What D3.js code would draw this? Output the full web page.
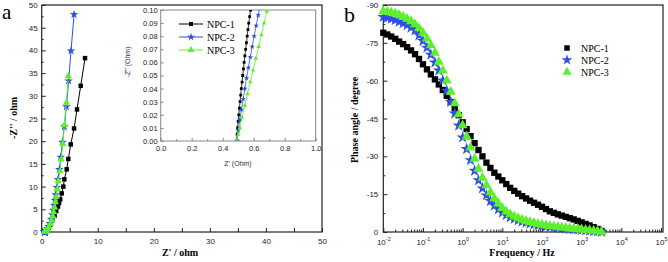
<!DOCTYPE html>
<html>
<head>
<meta charset="utf-8">
<script src="https://cdn.jsdelivr.net/npm/d3@7"></script>
<style>
body { margin: 0; background: #fff; }
svg { display: block; }
</style>
</head>
<body>
<div class="chart"></div>
<script>
const seriesNames = ['NPC-1', 'NPC-2', 'NPC-3'];
const seriesColors = ['#000000', '#2f4fe4', '#5cf02a'];

// Nyquist: Z' (ohm) and -Z'' (ohm)
const npc1Re = [0.490, 0.493, 0.496, 0.500, 0.504, 0.508, 0.512, 0.516, 0.520, 0.525, 0.529, 0.534, 0.538, 0.543, 0.548, 0.553, 0.558, 0.563, 0.568, 0.574, 0.580,
  0.75, 0.95, 1.2, 1.5, 1.9, 2.3, 2.6, 2.9, 3.1, 3.3, 3.57, 3.86, 4.04, 4.46, 4.75, 5.18, 5.77, 6.3, 6.96, 7.73];
const npc1Im = [0.000, 0.005, 0.010, 0.015, 0.020, 0.025, 0.030, 0.035, 0.040, 0.045, 0.050, 0.055, 0.060, 0.065, 0.070, 0.075, 0.080, 0.085, 0.090, 0.095, 0.100,
  0.25, 0.5, 0.9, 1.6, 2.6, 3.6, 4.6, 5.6, 6.4, 7.2, 8.5, 10.0, 11.6, 13.8, 16.1, 19.3, 22.8, 27.0, 32.2, 38.3];
const npc2Re = [0.490, 0.500, 0.510, 0.521, 0.532, 0.543, 0.554, 0.566, 0.578, 0.590, 0.603, 0.616, 0.629, 0.643,
  0.8, 1.0, 1.2, 1.45, 1.7, 1.9, 2.05, 2.2, 2.35, 2.5, 2.7, 2.9, 3.15, 3.4, 3.7, 4.04, 4.4, 4.8, 5.23, 5.77];
const npc2Im = [0.000, 0.008, 0.016, 0.024, 0.032, 0.040, 0.048, 0.056, 0.064, 0.072, 0.080, 0.088, 0.096, 0.104,
  0.3, 0.65, 1.2, 1.9, 2.8, 3.8, 4.8, 5.9, 7.0, 8.2, 9.8, 11.6, 13.8, 16.5, 19.8, 23.2, 27.6, 33.3, 39.9, 47.9];
const npc3Re = [0.490, 0.500, 0.510, 0.525, 0.542, 0.560, 0.578, 0.596, 0.614, 0.632, 0.650, 0.667, 0.684, 0.702,
  0.85, 1.05, 1.3, 1.55, 1.8, 2.0, 2.15, 2.3, 2.45, 2.6, 2.79, 2.96, 3.27, 3.5, 3.75, 4.04, 4.4, 4.75];
const npc3Im = [0.000, 0.005, 0.010, 0.018, 0.027, 0.036, 0.045, 0.054, 0.063, 0.072, 0.081, 0.090, 0.099, 0.108,
  0.3, 0.6, 1.1, 1.8, 2.6, 3.5, 4.4, 5.4, 6.6, 7.8, 9.5, 11.2, 13.4, 16.0, 19.4, 23.6, 28.5, 34.4];

// Bode phase: frequency (Hz) and phase angle (degree)
const frequency = [0.01, 0.0126, 0.0158, 0.02, 0.0251, 0.0316, 0.0398, 0.0501, 0.0631, 0.0794,
  0.1, 0.126, 0.158, 0.2, 0.251, 0.316, 0.398, 0.501, 0.631, 0.794,
  1, 1.26, 1.58, 2, 2.51, 3.16, 3.98, 5.01, 6.31, 7.94,
  10, 12.6, 15.8, 20, 25.1, 31.6, 39.8, 50.1, 63.1, 79.4,
  100, 126, 158, 200, 251, 316, 398, 501, 631, 794,
  1000, 1260, 1580, 2000, 2510, 3160];
const npc1Phase = [-79.0, -78.3, -77.5, -76.6, -75.5, -74.5, -73.3, -72.0, -70.5, -68.6,
  -66.5, -64.5, -62.5, -60.5, -58.5, -56.3, -54.0, -51.5, -49.0, -46.3,
  -43.5, -40.8, -38.0, -35.2, -32.5, -30.0, -27.5, -25.4, -23.5, -22.0,
  -20.5, -19.0, -17.5, -16.3, -15.2, -14.2, -13.3, -12.4, -11.6, -10.8,
  -10.0, -9.1, -8.2, -7.6, -7.0, -6.5, -6.0, -5.5, -5.0, -4.4,
  -3.8, -3.2, -2.6, -1.9, -1.2, -0.4];
const npc2Phase = [-85.3, -84.9, -84.5, -84.0, -83.3, -82.7, -82.0, -81.1, -80.0, -78.0,
  -75.7, -73.1, -70.3, -67.2, -64.0, -60.1, -56.0, -51.6, -47.0, -42.2,
  -37.5, -32.9, -28.5, -24.3, -20.5, -17.3, -14.5, -12.3, -10.5, -9.0,
  -7.7, -6.7, -5.8, -5.2, -4.6, -4.1, -3.7, -3.3, -3.0, -2.7,
  -2.5, -2.2, -2.0, -1.8, -1.7, -1.5, -1.4, -1.2, -1.1, -1.0,
  -0.9, -0.7, -0.6, -0.4, -0.3, -0.1];
const npc3Phase = [-87.5, -87.3, -87.0, -86.6, -86.0, -85.3, -84.5, -83.5, -82.3, -80.8,
  -79.0, -76.7, -74.0, -71.0, -67.5, -64.0, -60.0, -55.6, -51.0, -46.6,
  -42.3, -37.8, -33.5, -29.0, -25.0, -21.5, -18.5, -15.7, -13.3, -11.3,
  -9.5, -8.1, -7.0, -6.1, -5.4, -4.8, -4.3, -3.9, -3.5, -3.1,
  -2.8, -2.5, -2.3, -2.1, -1.9, -1.7, -1.6, -1.4, -1.3, -1.1,
  -1.0, -0.8, -0.7, -0.5, -0.3, -0.1];

// tick labels
const nyqTicks = [0, 10, 20, 30, 40, 50];
const nyqYTicks = [0, 5, 10, 15, 20, 25, 30, 35, 40, 45, 50];
const insetXTicks = [0, 0.2, 0.4, 0.6, 0.8, 1.0];
const insetYTicks = [0, 0.01, 0.02, 0.03, 0.04, 0.05, 0.06, 0.07, 0.08, 0.09, 0.10];
const phaseTicks = [0, -15, -30, -45, -60, -75, -90];
const freqExponents = [-2, -1, 0, 1, 2, 3, 4, 5];

const width = 668, height = 262;
const sansFont = '"Liberation Sans", Arial, sans-serif';
const serifFont = '"Liberation Serif", "Times New Roman", serif';

const svg = d3.select('.chart')
  .append('svg')
  .attr('width', width)
  .attr('height', height);

const symbolTypes = [d3.symbolSquare, d3.symbolStar, d3.symbolTriangle];

function styleAxis(g, color, fontSize) {
  g.select('.domain').remove();
  g.selectAll('line').attr('stroke', color);
  g.selectAll('text')
    .attr('font-family', sansFont)
    .attr('font-size', fontSize)
    .attr('fill', '#222');
}

function drawMarkers(g, points, symbolIndex, color, size) {
  g.selectAll(null)
    .data(points)
    .join('path')
    .attr('d', d3.symbol().type(symbolTypes[symbolIndex]).size(size))
    .attr('transform', d => `translate(${d[0]},${d[1]})`)
    .attr('fill', color);
}

// ---------- panel a: Nyquist ----------
const ax = d3.scaleLinear().domain([0, 50]).range([41.7, 322]);
const ay = d3.scaleLinear().domain([0, 50]).range([232, 5]);

const nyqSeries = [
  d3.zip(npc1Re, npc1Im),
  d3.zip(npc2Re, npc2Im),
  d3.zip(npc3Re, npc3Im)
];

const panelA = svg.append('g');

panelA.append('g')
  .attr('transform', `translate(0,${ay(0)})`)
  .call(d3.axisBottom(ax).tickValues(d3.range(0, 51, 5)).tickSize(-4).tickPadding(6)
    .tickFormat(d => nyqTicks.includes(d) ? d : ''))
  .call(g => styleAxis(g, '#222', 8));

panelA.append('g')
  .attr('transform', `translate(${ax(0)},0)`)
  .call(d3.axisLeft(ay).tickValues(nyqYTicks).tickSize(-4).tickPadding(4))
  .call(g => styleAxis(g, '#222', 8));

panelA.append('g')
  .attr('transform', `translate(${ax(0)},0)`)
  .call(d3.axisLeft(ay).tickValues(d3.range(2.5, 50, 5)).tickSize(-2).tickFormat(''))
  .call(g => styleAxis(g, '#222', 8));

panelA.append('rect')
  .attr('x', ax(0)).attr('y', ay(50))
  .attr('width', ax(50) - ax(0)).attr('height', ay(0) - ay(50))
  .attr('fill', 'none').attr('stroke', '#222').attr('stroke-width', 1.2);

const lineA = d3.line().x(d => ax(d[0])).y(d => ay(d[1]));
const nyqSizes = [20, 24, 22];
nyqSeries.forEach((pts, i) => {
  const g = panelA.append('g');
  g.append('path')
    .attr('d', lineA(pts))
    .attr('fill', 'none')
    .attr('stroke', seriesColors[i])
    .attr('stroke-width', 1);
  drawMarkers(g, pts.map(d => [ax(d[0]), ay(d[1])]), i, seriesColors[i], nyqSizes[i]);
});

panelA.append('text')
  .attr('x', 2).attr('y', 19)
  .attr('font-family', serifFont).attr('font-size', 21)
  .text('a');

panelA.append('text')
  .attr('x', 180).attr('y', 256)
  .attr('text-anchor', 'middle')
  .attr('font-family', serifFont).attr('font-size', 10).attr('font-weight', 'bold')
  .text("Z' / ohm");

panelA.append('text')
  .attr('transform', 'translate(17,118) rotate(-90)')
  .attr('text-anchor', 'middle')
  .attr('font-family', serifFont).attr('font-size', 10).attr('font-weight', 'bold')
  .text("-Z'' / ohm");

// inset
const ix = d3.scaleLinear().domain([0, 1]).range([160.7, 315.7]);
const iy = d3.scaleLinear().domain([0, 0.1]).range([141, 10]);
const inset = panelA.append('g');

inset.append('rect')
  .attr('x', ix(0)).attr('y', iy(0.1))
  .attr('width', ix(1) - ix(0)).attr('height', iy(0) - iy(0.1))
  .attr('fill', '#fff');

inset.append('defs').append('clipPath').attr('id', 'insetClip')
  .append('rect')
  .attr('x', ix(0)).attr('y', iy(0.1))
  .attr('width', ix(1) - ix(0)).attr('height', iy(0) - iy(0.1));

inset.append('g')
  .attr('transform', `translate(0,${iy(0)})`)
  .call(d3.axisBottom(ix).tickValues(insetXTicks).tickSize(-3).tickPadding(5).tickFormat(d3.format('.1f')))
  .call(g => styleAxis(g, '#888', 7.5));
inset.append('g')
  .attr('transform', `translate(0,${iy(0)})`)
  .call(d3.axisBottom(ix).tickValues(d3.range(0.1, 1, 0.2)).tickSize(-2).tickFormat(''))
  .call(g => styleAxis(g, '#888', 7.5));
inset.append('g')
  .attr('transform', `translate(${ix(0)},0)`)
  .call(d3.axisLeft(iy).tickValues(insetYTicks).tickSize(-3).tickPadding(3).tickFormat(d3.format('.2f')))
  .call(g => styleAxis(g, '#888', 7.5));

inset.append('rect')
  .attr('x', ix(0)).attr('y', iy(0.1))
  .attr('width', ix(1) - ix(0)).attr('height', iy(0) - iy(0.1))
  .attr('fill', 'none').attr('stroke', '#888').attr('stroke-width', 1);

const lineI = d3.line().x(d => ix(d[0])).y(d => iy(d[1]));
const insetData = inset.append('g').attr('clip-path', 'url(#insetClip)');
const insetSizes = [8, 10, 9];
nyqSeries.forEach((pts, i) => {
  insetData.append('path')
    .attr('d', lineI(pts))
    .attr('fill', 'none')
    .attr('stroke', seriesColors[i])
    .attr('stroke-width', 0.8);
  drawMarkers(insetData, pts.filter(d => d[1] <= 0.101).map(d => [ix(d[0]), iy(d[1])]), i, seriesColors[i], insetSizes[i]);
});

inset.append('text')
  .attr('x', 238).attr('y', 166)
  .attr('text-anchor', 'middle')
  .attr('font-family', sansFont).attr('font-size', 7).attr('fill', '#333')
  .text("Z' (Ohm)");
inset.append('text')
  .attr('transform', 'translate(130,62) rotate(-90)')
  .attr('text-anchor', 'middle')
  .attr('font-family', sansFont).attr('font-size', 7).attr('fill', '#333')
  .text("-Z'' (Ohm)");

const legendA = inset.append('g');
seriesNames.forEach((name, i) => {
  const y = 24 + i * 13;
  legendA.append('line')
    .attr('x1', 179).attr('x2', 203).attr('y1', y).attr('y2', y)
    .attr('stroke', seriesColors[i]).attr('stroke-width', 1);
  drawMarkers(legendA, [[191, y]], i, seriesColors[i], i === 0 ? 16 : 20);
  legendA.append('text')
    .attr('x', 207).attr('y', y + 3.5)
    .attr('font-family', serifFont).attr('font-size', 10)
    .text(name);
});

// ---------- panel b: Bode phase ----------
const bx = d3.scaleLog().domain([0.01, 1e5]).range([383.3, 661]);
const by = d3.scaleLinear().domain([0, -90]).range([232, 5]);
const phaseSeries = [npc1Phase, npc2Phase, npc3Phase];

const panelB = svg.append('g');

const majorFreq = freqExponents.map(e => Math.pow(10, e));
panelB.append('g')
  .attr('transform', `translate(0,${by(0)})`)
  .call(d3.axisBottom(bx).tickValues(bx.ticks().filter(d => !majorFreq.some(m => Math.abs(m - d) / m < 1e-6)))
    .tickSize(-2.5).tickFormat(''))
  .call(g => styleAxis(g, '#222', 8));

const xMajor = panelB.append('g')
  .attr('transform', `translate(0,${by(0)})`)
  .call(d3.axisBottom(bx).tickValues(majorFreq).tickSize(-4).tickFormat(''))
  .call(g => styleAxis(g, '#222', 8));

xMajor.selectAll('.tick').each(function (d, i) {
  const t = d3.select(this).append('text')
    .attr('y', 13)
    .attr('text-anchor', 'middle')
    .attr('font-family', sansFont).attr('font-size', 8).attr('fill', '#222');
  t.append('tspan').text('10');
  t.append('tspan').attr('dy', -4).attr('font-size', 5.5).text(freqExponents[i]);
});

panelB.append('g')
  .attr('transform', `translate(${bx(0.01)},0)`)
  .call(d3.axisLeft(by).tickValues(phaseTicks).tickSize(-4).tickPadding(5).tickFormat(d => String(d)))
  .call(g => styleAxis(g, '#222', 8));
panelB.append('g')
  .attr('transform', `translate(${bx(0.01)},0)`)
  .call(d3.axisLeft(by).tickValues(d3.range(-7.5, -90, -15)).tickSize(-2).tickFormat(''))
  .call(g => styleAxis(g, '#222', 8));

panelB.append('rect')
  .attr('x', bx(0.01)).attr('y', by(-90))
  .attr('width', 663 - bx(0.01)).attr('height', by(0) - by(-90))
  .attr('fill', 'none').attr('stroke', '#222').attr('stroke-width', 1.2);

const phaseSizes = [40, 46, 44];
phaseSeries.forEach((vals, i) => {
  const pts = vals.map((v, j) => [bx(frequency[j]), by(v)]);
  drawMarkers(panelB.append('g'), pts, i, seriesColors[i], phaseSizes[i]);
});

panelB.append('text')
  .attr('x', 344).attr('y', 22)
  .attr('font-family', serifFont).attr('font-size', 22)
  .text('b');

panelB.append('text')
  .attr('x', 522).attr('y', 256)
  .attr('text-anchor', 'middle')
  .attr('font-family', serifFont).attr('font-size', 10).attr('font-weight', 'bold')
  .text('Frequency / Hz');

panelB.append('text')
  .attr('transform', 'translate(358,120) rotate(-90)')
  .attr('text-anchor', 'middle')
  .attr('font-family', serifFont).attr('font-size', 10).attr('font-weight', 'bold')
  .text('Phase angle / degree');

const legendB = panelB.append('g');
seriesNames.forEach((name, i) => {
  const y = 48 + i * 12;
  drawMarkers(legendB, [[567, y]], i, seriesColors[i], i === 0 ? 30 : 36);
  legendB.append('text')
    .attr('x', 581).attr('y', y + 3.5)
    .attr('font-family', serifFont).attr('font-size', 10)
    .text(name);
});
</script>
</body>
</html>
